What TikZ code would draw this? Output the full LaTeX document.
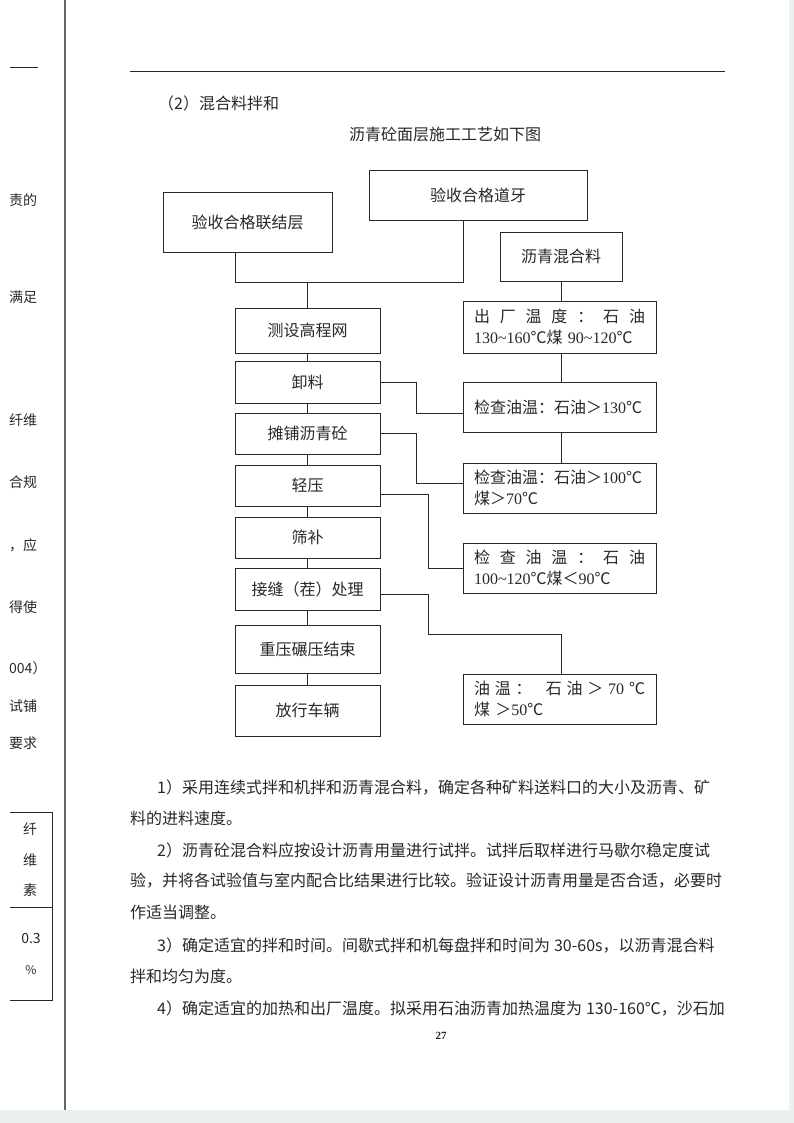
\documentclass[tikz,border=0pt]{standalone}
\usepackage{fontspec}
\setmainfont{Noto Sans CJK SC}
\newfontfamily\tn{Liberation Serif}
\XeTeXinterchartokenstate=1
\XeTeXinterchartoks 1 1 = {\hskip 0pt plus 3pt\relax}
\XeTeXinterchartoks 1 2 = {\hskip 0pt plus 3pt\relax}
\XeTeXinterchartoks 1 3 = {\hskip 0pt plus 3pt\relax}
\XeTeXinterchartoks 3 1 = {\hskip 0pt plus 3pt\relax}
\XeTeXinterchartoks 2 1 = {\hskip 0pt plus 3pt\relax}
\XeTeXinterchartoks 3 2 = {\hskip 0pt plus 3pt\relax}
\XeTeXinterchartoks 0 1 = {\hskip 0pt plus 3pt\relax}
\XeTeXinterchartoks 1 0 = {\hskip 0pt plus 3pt\relax}
\usetikzlibrary{calc}
\definecolor{ink}{RGB}{40,40,40}
\definecolor{strip}{RGB}{236,241,239}
\tikzset{
  box/.style={draw=ink, line width=0.9pt, rectangle, inner sep=0pt, text=ink,
              font=\fontsize{16}{21}\selectfont},
  lbox/.style={box, minimum width=145pt},
  rbox/.style={box, minimum width=193pt, text width=171pt, align=left},
  link/.style={draw=ink, line width=0.8pt},
  body/.style={anchor=west, inner sep=0pt, text=ink, font=\fontsize{16}{16}\selectfont},
  marg/.style={anchor=west, inner sep=0pt, text=ink, font=\fontsize{14}{14}\selectfont},
}
\begin{document}
\begin{tikzpicture}[x=1pt,y=-1pt]
\useasboundingbox (0,0) rectangle (794,1123);
\fill[white] (0,0) rectangle (794,1123);
\fill[strip] (0,1110) rectangle (794,1123);
\fill[strip] (789,0) rectangle (794,1123);
% binding line and header
\draw[black!60, line width=2.5pt] (65,0) -- (65,1110);
\draw[ink, line width=0.9pt] (130,71) -- (725,71);
\draw[ink, line width=0.9pt] (10,67) -- (38,67);
% margin texts
\node[marg] (m1) at (9,200) {责的};
\node[marg] (m2) at (9,297) {满足};
\node[marg] (m3) at (9,420) {纤维};
\node[marg] (m4) at (9,482) {合规};
\node[marg] (m5) at (9,545) {，应};
\node[marg] (m6) at (9,607) {得使};
\node[marg] (m7) at (9,668) {004）};
\node[marg] (m8) at (9,706) {试铺};
\node[marg] (m9) at (9,743) {要求};
% margin table
\draw[ink, line width=0.7pt] (10,812) -- (52,812) -- (52,1000) -- (10,1000);
\draw[ink, line width=0.7pt] (10,907) -- (52,907);
\node[marg, anchor=center] (t1) at (30,829) {纤};
\node[marg, anchor=center] (t2) at (30,860) {维};
\node[marg, anchor=center] (t3) at (30,890) {素};
\node[marg, anchor=center] (t4) at (31,938) {0.3};
\node[marg, anchor=center] (t5) at (31,970) {\fontsize{12}{12}\selectfont\%};
% headings
\node[body] (h1) at (158,103) {（2）混合料拌和};
\node[body, anchor=center] (h2) at (445,134) {沥青砼面层施工工艺如下图};
% flow chart boxes
\node[box, minimum width=169pt, minimum height=60pt] (n1) at (247.5,222) {验收合格联结层};
\node[box, minimum width=218pt, minimum height=50pt] (n2) at (478,195) {验收合格道牙};
\node[box, minimum width=122pt, minimum height=49pt] (n3) at (561,256.5) {沥青混合料};
\node[lbox, minimum height=45pt] (a1) at (307.5,330.5) {测设高程网};
\node[lbox, minimum height=42pt] (a2) at (307.5,382) {卸料};
\node[lbox, minimum height=41pt] (a3) at (307.5,433.5) {摊铺沥青砼};
\node[lbox, minimum height=41pt] (a4) at (307.5,485.5) {轻压};
\node[lbox, minimum height=41pt] (a5) at (307.5,537.5) {筛补};
\node[lbox, minimum height=42pt] (a6) at (307.5,589) {接缝（茬）处理};
\node[lbox, minimum height=48pt] (a7) at (307.5,649) {重压碾压结束};
\node[lbox, minimum height=51pt] (a8) at (307.5,710.5) {放行车辆};
\node[rbox, minimum height=52pt] (r1) at (559.5,327)
  {\makebox[171pt][s]{出\hfill 厂\hfill 温\hfill 度\hfill ：\hfill 石\hfill 油}\\{\tn 130\textasciitilde160}℃煤 {\tn 90\textasciitilde120}℃};
\node[rbox, minimum height=50pt] (r2) at (559.5,407) {检查油温：石油＞{\tn 130}℃};
\node[rbox, minimum height=50pt] (r3) at (559.5,488) {检查油温：石油＞{\tn 100}℃\\煤＞{\tn 70}℃};
\node[rbox, minimum height=50pt] (r4) at (559.5,568)
  {\makebox[171pt][s]{检\hfill 查\hfill 油\hfill 温\hfill ：\hfill 石\hfill 油}\\{\tn 100\textasciitilde120}℃煤＜{\tn 90}℃};
\node[rbox, minimum height=50pt] (r5) at (559.5,699)
  {\makebox[171pt][s]{油\hfill 温\hfill ：\hfill\hfill\hfill 石\hfill 油\hfill ＞\hfill {\tn 70}\hfill ℃}\\煤\ ＞{\tn 50}℃};
% connectors
\coordinate (jl) at (235,282);
\coordinate (jr) at (463,282);
\draw[link] (n1.south -| jl) -- (jl) -- (jr) -- (n2.south -| jr);
\draw[link] (a1.north) -- (a1.north |- jl);
\draw[link] (a1.south) -- (a2.north);
\draw[link] (a2.south) -- (a3.north);
\draw[link] (a3.south) -- (a4.north);
\draw[link] (a4.south) -- (a5.north);
\draw[link] (a5.south) -- (a6.north);
\draw[link] (a6.south) -- (a7.north);
\draw[link] (a7.south) -- (a8.north);
\draw[link] (n3.south) -- (n3.south |- r1.north);
\draw[link] (r1.south -| n3.south) -- (r2.north -| n3.south);
\draw[link] (r2.south -| n3.south) -- (r3.north -| n3.south);
\coordinate (k1) at (416,413);
\coordinate (k2) at (416,483);
\coordinate (k3) at (428,568);
\coordinate (k4) at (428,634);
\draw[link] (a2.east) -| (k1) -- (k1 -| r2.west);
\draw[link] (a3.east) -| (k2) -- (k2 -| r3.west);
\draw[link] ([yshift=-8.5pt]a4.east) -| (k3) -- (k3 -| r4.west);
\draw[link] ([yshift=-5pt]a6.east) -| (k4) -| (r5.north -| n3.south);
% body text
\node[body] (b1) at (157,787) {\makebox[568pt][s]{1）采用连续式拌和机拌和沥青混合料，确定各种矿料送料口的大小及沥青、矿}};
\node[body] (b2) at (130,818) {料的进料速度。};
\node[body] (b3) at (157,850) {\makebox[568pt][s]{2）沥青砼混合料应按设计沥青用量进行试拌。试拌后取样进行马歇尔稳定度试}};
\node[body] (b4) at (130,881) {\makebox[595pt][s]{验，并将各试验值与室内配合比结果进行比较。验证设计沥青用量是否合适，必要时}};
\node[body] (b5) at (130,912) {作适当调整。};
\node[body] (b6) at (157,945) {\makebox[565pt][s]{3）确定适宜的拌和时间。间歇式拌和机每盘拌和时间为\kern4pt 30-60s，以沥青混合料}};
\node[body] (b7) at (130,976) {拌和均匀为度。};
\node[body] (b8) at (157,1008) {\makebox[566pt][s]{4）确定适宜的加热和出厂温度。拟采用石油沥青加热温度为\kern4pt 130-160℃，沙石加}};
\node[inner sep=0pt, text=ink, font=\tn\bfseries\fontsize{11}{11}\selectfont] (pg) at (441,1036) {27};
\end{tikzpicture}
\end{document}
